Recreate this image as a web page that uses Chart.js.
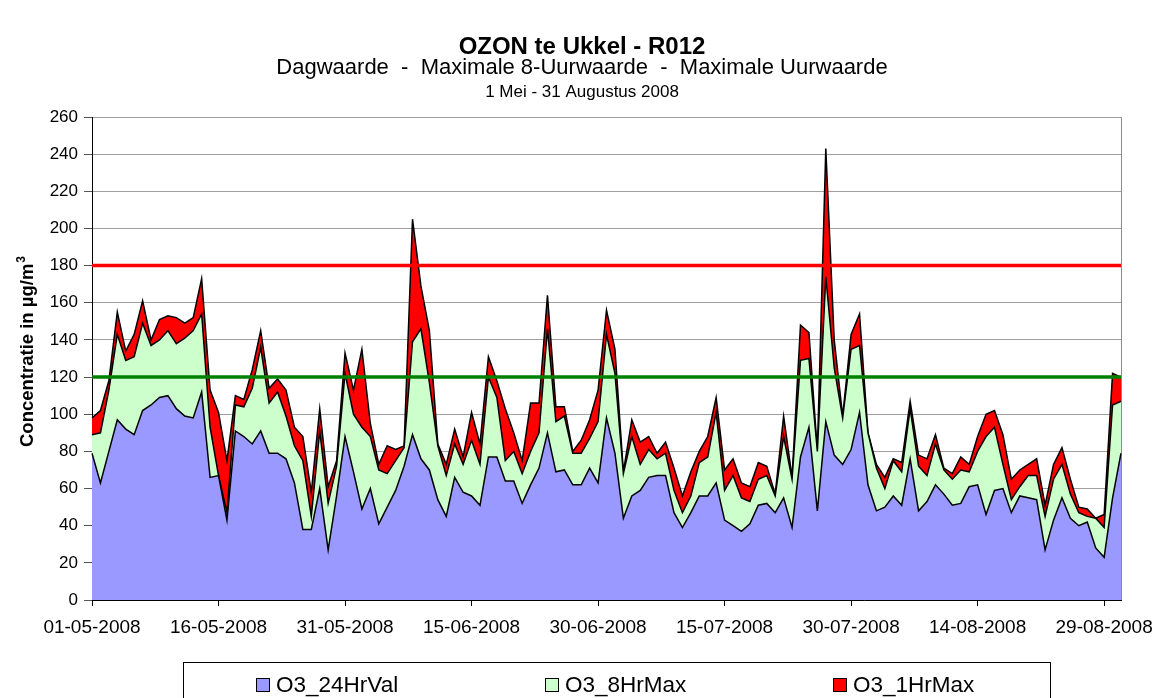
<!DOCTYPE html>
<html>
<head>
<meta charset="utf-8">
<title>OZON te Ukkel - R012</title>
<script src="https://cdn.jsdelivr.net/npm/chart.js@4.4.0/dist/chart.umd.min.js"></script>
<style>
html,body{margin:0;padding:0;background:#ffffff;}
#wrap{width:1157px;height:698px;position:relative;overflow:hidden;}
canvas{display:block;}
</style>
</head>
<body>
<div id="wrap"><canvas id="chart" width="1157" height="698"></canvas></div>
<script>
// ---- data ----
const dayCount = 123; // 1 May - 31 Aug 2008
const xTickLabels = ['01-05-2008','16-05-2008','31-05-2008','15-06-2008','30-06-2008','15-07-2008','30-07-2008','14-08-2008','29-08-2008'];
const yTickValues = [0,20,40,60,80,100,120,140,160,180,200,220,240,260];

const o3_24HrVal = [
  79,63,80,97,92,89,102,105,109,110,103,99,98,112,66,67,43,91,88,84,
  91,79,79,76,63,38,38,60,27,56,88,69,49,60,41,50,59,72,89,76,
  70,54,45,66,58,56,51,77,77,64,64,52,62,71,90,69,70,62,62,71,
  63,98,79,44,56,59,66,67,67,47,39,47,56,56,63,43,40,37,41,51,
  52,47,55,39,77,93,48,96,78,73,81,101,62,48,50,56,51,76,48,53,
  62,57,51,52,61,62,46,59,60,47,56,55,54,27,43,55,44,40,42,28,
  23,55,79
];
const o3_8HrMax = [
  89,90,113,143,129,131,149,137,140,145,138,141,145,154,93,67,47,105,104,114,
  136,106,112,99,83,75,45,91,52,72,122,100,93,88,70,68,75,82,139,146,
  117,83,67,84,73,86,73,120,109,75,80,68,80,90,146,96,99,79,79,87,
  96,143,122,68,88,73,81,76,79,59,47,56,74,77,101,59,67,55,53,65,
  67,56,88,65,129,130,80,174,125,98,135,137,90,71,60,75,69,103,72,67,
  84,70,65,70,69,80,88,93,73,54,61,67,67,45,65,73,57,47,45,44,
  39,105,107
];
const o3_1HrMax = [
  98,102,118,155,134,143,161,140,151,153,152,149,152,173,113,101,75,110,108,124,
  145,114,119,113,93,88,58,103,61,75,133,113,135,95,73,83,81,83,205,169,
  145,84,73,92,77,101,84,131,118,103,90,75,106,106,164,104,104,80,86,97,
  113,156,135,69,97,85,88,79,85,71,56,69,80,88,109,70,76,63,61,74,
  72,57,99,66,148,144,80,243,140,99,143,154,90,73,66,76,74,107,78,76,
  89,71,68,77,73,88,100,102,89,65,70,73,76,51,73,82,65,50,49,44,
  46,122,120
];
const limitInfo = 180;   // informatiedrempel
const limitTarget = 120; // streefwaarde

// categories (dates) for the x axis
const categories = [];
for (let d = 0; d < dayCount; d++) {
  const dt = new Date(Date.UTC(2008, 4, 1 + d));
  categories.push(String(dt.getUTCDate()).padStart(2,'0') + '-' +
    String(dt.getUTCMonth() + 1).padStart(2,'0') + '-' + dt.getUTCFullYear());
}

const FONT = "'Liberation Sans', Arial, Helvetica, sans-serif";

// ---- plugins: titles, axis title, border, legend ----
const decorPlugin = {
  id: 'decor',
  beforeDatasetsDraw(chart) {
    const {ctx, chartArea} = chart;
    ctx.save();
    ctx.strokeStyle = '#8c8c8c';
    ctx.lineWidth = 1;
    ctx.beginPath();
    ctx.moveTo(Math.round(chartArea.right) + 0.5, chartArea.top);
    ctx.lineTo(Math.round(chartArea.right) + 0.5, chartArea.bottom);
    ctx.stroke();
    ctx.restore();
  },
  afterDraw(chart) {
    const ctx = chart.ctx;
    ctx.save();
    ctx.fillStyle = '#000';
    ctx.textAlign = 'center';
    ctx.textBaseline = 'alphabetic';
    const cx = 582;
    ctx.font = 'bold 24px ' + FONT;
    ctx.fillText('OZON te Ukkel - R012', cx, 54);
    ctx.font = '22px ' + FONT;
    ctx.fillText('Dagwaarde  -  Maximale 8-Uurwaarde  -  Maximale Uurwaarde', cx, 74);
    ctx.font = '17px ' + FONT;
    ctx.fillText('1 Mei - 31 Augustus 2008', cx, 97);

    // y axis title
    ctx.save();
    ctx.translate(33, 352);
    ctx.rotate(-Math.PI / 2);
    ctx.textAlign = 'left';
    ctx.font = 'bold 18.5px ' + FONT;
    const main = 'Concentratie in \u00b5g/m';
    const w1 = ctx.measureText(main).width;
    ctx.font = 'bold 12px ' + FONT;
    const w2 = ctx.measureText('3').width;
    const x0 = -(w1 + w2) / 2;
    ctx.font = 'bold 18.5px ' + FONT;
    ctx.fillText(main, x0, 0);
    ctx.font = 'bold 12px ' + FONT;
    ctx.fillText('3', x0 + w1 + 1, -8);
    ctx.restore();

    // legend
    const lx = 183, ly = 662.5, lw = 867, lh = 60;
    ctx.strokeStyle = '#000';
    ctx.lineWidth = 1;
    ctx.strokeRect(lx + 0.5, ly, lw, lh);
    const items = chart.data.datasets.filter(d => d.showInLegend);
    const itemX = [256, 545, 833];
    ctx.font = '22.5px ' + FONT;
    ctx.textAlign = 'left';
    ctx.textBaseline = 'middle';
    items.forEach((ds, i) => {
      const x = itemX[i];
      ctx.fillStyle = ds.backgroundColor;
      ctx.fillRect(x, 678, 14, 14);
      ctx.strokeStyle = '#000';
      ctx.strokeRect(x + 0.5, 678.5, 13, 13);
      ctx.fillStyle = '#000';
      ctx.fillText(ds.label, x + 20, 686);
    });
    ctx.restore();
  }
};

const areaCommon = {
  fill: 'origin',
  borderColor: '#000000',
  borderWidth: 1.5,
  pointRadius: 0,
  pointHoverRadius: 0,
  tension: 0,
  borderJoinStyle: 'miter'
};

new Chart(document.getElementById('chart'), {
  type: 'line',
  data: {
    labels: categories,
    datasets: [
      Object.assign({label: 'O3_24HrVal', data: o3_24HrVal, backgroundColor: '#9999FF', order: 1, showInLegend: true}, areaCommon),
      Object.assign({label: 'O3_8HrMax', data: o3_8HrMax, backgroundColor: '#CCFFCC', order: 2, showInLegend: true}, areaCommon),
      Object.assign({label: 'O3_1HrMax', data: o3_1HrMax, backgroundColor: '#FF0000', order: 3, showInLegend: true}, areaCommon),
      {label: 'Informatiedrempel', data: categories.map(() => limitInfo), borderColor: '#FF0000', backgroundColor: '#FF0000',
        borderWidth: 3.5, fill: false, pointRadius: 0, tension: 0, order: 0, showInLegend: false},
      {label: 'Streefwaarde', data: categories.map(() => limitTarget), borderColor: '#008000', backgroundColor: '#008000',
        borderWidth: 3.5, fill: false, pointRadius: 0, tension: 0, order: 0, showInLegend: false}
    ]
  },
  options: {
    responsive: false,
    animation: false,
    devicePixelRatio: 1,
    layout: {padding: {left: 0, right: 36, top: 117, bottom: 48}},
    plugins: {
      legend: {display: false},
      title: {display: false},
      tooltip: {enabled: false}
    },
    scales: {
      x: {
        type: 'category',
        offset: false,
        grid: {display: true, drawOnChartArea: false, drawTicks: true, tickLength: 6, color: '#000', tickColor: '#000'},
        border: {display: true, color: '#000', width: 1},
        ticks: {
          autoSkip: false, maxRotation: 0, minRotation: 0, padding: 10,
          color: '#000', font: {family: FONT, size: 19},
          callback: function(value, index) {
            const lab = categories[index];
            return xTickLabels.includes(lab) ? lab : null;
          }
        },
        afterFit: s => { s.height = 50; s.paddingLeft = 0; s.paddingRight = 0; }
      },
      y: {
        min: 0, max: 260,
        afterBuildTicks: s => { s.ticks = yTickValues.map(v => ({value: v})); },
        grid: {color: '#a0a0a0', tickColor: '#555', tickLength: 8, drawTicks: true, lineWidth: 1},
        border: {display: true, color: '#000', width: 1},
        ticks: {padding: 6, color: '#000', font: {family: FONT, size: 17}},
        afterFit: s => { s.width = 92; s.paddingTop = 0; s.paddingBottom = 0; }
      }
    }
  },
  plugins: [decorPlugin]
});
</script>
</body>
</html>
